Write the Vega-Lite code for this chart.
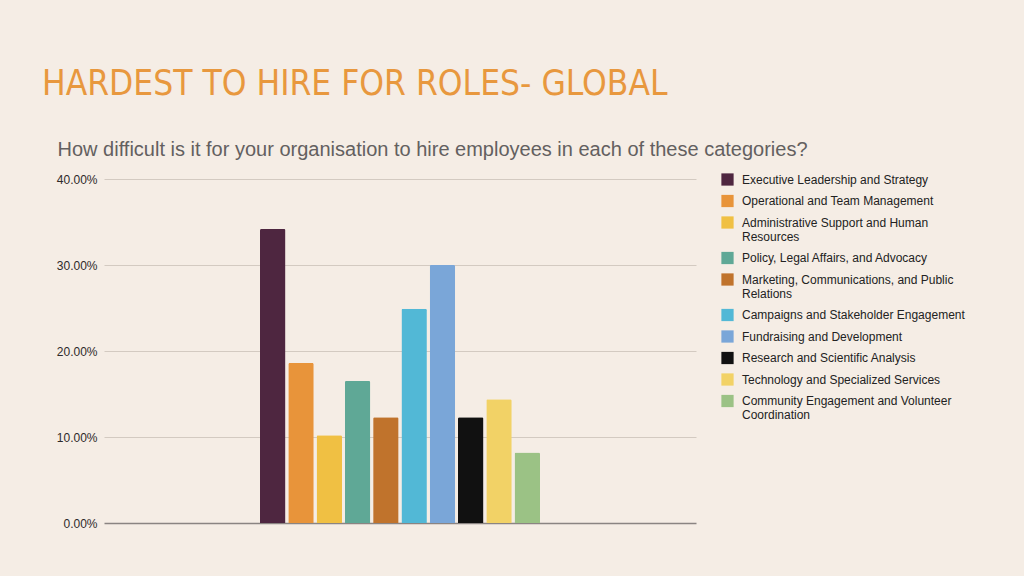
{
  "$schema": "https://vega.github.io/schema/vega-lite/v6.json",
  "width": 592,
  "height": 344,
  "autosize": "none",
  "padding": {"left": 104, "top": 179, "right": 328, "bottom": 53},
  "background": "#F5EDE5",
  "title": {
    "text": "HARDEST TO HIRE FOR ROLES- GLOBAL",
    "anchor": "start",
    "frame": "group",
    "dx": -62,
    "offset": 37,
    "font": "DejaVu Sans Condensed",
    "fontSize": 35,
    "fontWeight": "normal",
    "color": "#E8983E"
  },
  "data": {
    "values": [
      {"region": "Global", "role": "Executive Leadership and Strategy", "pct": 0.342},
      {"region": "Global", "role": "Operational and Team Management", "pct": 0.186},
      {"region": "Global", "role": "Administrative Support and Human Resources", "pct": 0.102},
      {"region": "Global", "role": "Policy, Legal Affairs, and Advocacy", "pct": 0.165},
      {"region": "Global", "role": "Marketing, Communications, and Public Relations", "pct": 0.123},
      {"region": "Global", "role": "Campaigns and Stakeholder Engagement", "pct": 0.249},
      {"region": "Global", "role": "Fundraising and Development", "pct": 0.300},
      {"region": "Global", "role": "Research and Scientific Analysis", "pct": 0.123},
      {"region": "Global", "role": "Technology and Specialized Services", "pct": 0.144},
      {"region": "Global", "role": "Community Engagement and Volunteer Coordination", "pct": 0.082}
    ]
  },
  "mark": {"type": "bar", "cornerRadiusTopLeft": 1.5, "cornerRadiusTopRight": 1.5},
  "encoding": {
    "x": {
      "field": "region",
      "type": "nominal",
      "scale": {"paddingInner": 0, "paddingOuter": 0.557},
      "axis": {
        "orient": "top",
        "labels": false,
        "ticks": false,
        "domain": false,
        "title": "How difficult is it for your organisation to hire employees in each of these categories?",
        "titleFont": "Liberation Sans",
        "titleFontSize": 20,
        "titleFontWeight": "normal",
        "titleColor": "#636060",
        "titleAnchor": "start",
        "titleAlign": "left",
        "titleBaseline": "alphabetic",
        "titleX": -47,
        "titleY": -24
      }
    },
    "xOffset": {
      "field": "role",
      "type": "nominal",
      "sort": null,
      "scale": {"paddingInner": 0.1, "paddingOuter": 0}
    },
    "y": {
      "field": "pct",
      "type": "quantitative",
      "scale": {"domain": [0, 0.4]},
      "axis": {
        "values": [0, 0.1, 0.2, 0.3, 0.4],
        "format": ".2%",
        "title": null,
        "ticks": false,
        "domain": false,
        "labelFont": "Liberation Sans",
        "labelFontSize": 12,
        "labelColor": "#2E2A2A",
        "labelPadding": 7,
        "gridColor": {"condition": {"test": "datum.value === 0", "value": "#8A8482"}, "value": "#D3CAC1"},
        "gridWidth": {"condition": {"test": "datum.value === 0", "value": 1.5}, "value": 1}
      }
    },
    "color": {
      "field": "role",
      "type": "nominal",
      "sort": null,
      "scale": {
        "domain": [
          "Executive Leadership and Strategy",
          "Operational and Team Management",
          "Administrative Support and Human Resources",
          "Policy, Legal Affairs, and Advocacy",
          "Marketing, Communications, and Public Relations",
          "Campaigns and Stakeholder Engagement",
          "Fundraising and Development",
          "Research and Scientific Analysis",
          "Technology and Specialized Services",
          "Community Engagement and Volunteer Coordination"
        ],
        "range": ["#4E2640", "#E8943A", "#F0C043", "#5FA896", "#C0732C", "#52B8D6", "#7AA6D8", "#111111", "#F2D266", "#9BC285"]
      },
      "legend": {
        "title": null,
        "orient": "none",
        "legendX": 617,
        "legendY": -6,
        "padding": 0,
        "symbolType": "square",
        "symbolSize": 150,
        "symbolStrokeWidth": 0,
        "labelFont": "Liberation Sans",
        "labelFontSize": 12,
        "labelColor": "#222222",
        "labelOffset": 8,
        "labelLimit": 400,
        "rowPadding": 8.5,
        "labelExpr": "datum.label == 'Administrative Support and Human Resources' ? ['Administrative Support and Human', 'Resources'] : datum.label == 'Marketing, Communications, and Public Relations' ? ['Marketing, Communications, and Public', 'Relations'] : datum.label == 'Community Engagement and Volunteer Coordination' ? ['Community Engagement and Volunteer', 'Coordination'] : datum.label"
      }
    }
  },
  "config": {"view": {"stroke": null}}
}
